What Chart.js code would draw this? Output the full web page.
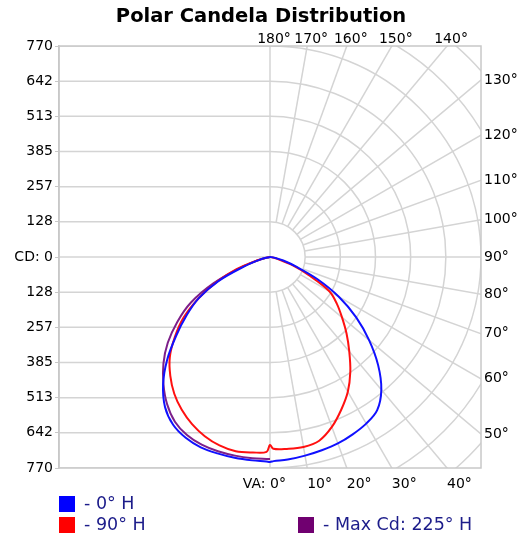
<!DOCTYPE html>
<html>
<head>
<meta charset="utf-8">
<script src="https://cdn.jsdelivr.net/npm/chart.js@4.4.1/dist/chart.umd.min.js"></script>
<style>
  body { margin: 0; background: #fff; }
  #wrap { width: 520px; height: 537px; position: relative; }
</style>
</head>
<body>
<div id="wrap"><canvas id="polar"></canvas></div>
<script>
// vertical angle from nadir (deg), and candela for each plane
const va = [0, 1, 5, 10, 15, 20, 25, 30, 35, 40, 45, 50, 55, 60, 65, 70, 75, 80, 85, 90];
const cd0   = [748, 745, 742, 736, 730, 724, 714, 702, 682, 632, 558, 472, 384, 290, 190, 100, 50, 20, 5, 0];
const cd180 = [748, 746, 745, 744, 742, 739, 728, 707, 668, 607, 531, 447, 372, 300, 208, 100, 40, 10, 0, 0];
const cd90  = [686, 700, 703, 704, 694, 660, 615, 568, 511, 450, 395, 343, 298, 250, 155, 85, 30, 8, 0, 0];
const cd270 = [686, 711, 716, 720, 712, 696, 673, 644, 609, 566, 517, 453, 385, 300, 213, 130, 50, 8, 0, 0];
const cd225 = [737, 737, 737, 736, 734, 729, 717, 694, 655, 605, 550, 487, 413, 334, 228, 115, 45, 10, 0, 0];

const cdTicks  = [-770, -641.67, -513.33, -385, -256.67, -128.33, 0, 128.33, 256.67, 385, 513.33, 641.67, 770];
const cdLabels = ['770', '642', '513', '385', '257', '128', 'CD: 0', '128', '257', '385', '513', '642', '770'];

const bottomAngles = [0, 10, 20, 30, 40];
const bottomLabels = ['VA: 0°', '10°', '20°', '30°', '40°'];
const rightAngles = [50, 60, 70, 80, 90, 100, 110, 120, 130];
const rightLabels = ['50°', '60°', '70°', '80°', '90°', '100°', '110°', '120°', '130°'];
const topAngles = [180, 170, 160, 150, 140];
const topLabels = ['180°', '170°', '160°', '150°', '140°'];

const FONT = "'DejaVu Sans', Verdana, sans-serif";
const rad = d => d * Math.PI / 180;

// left half (mirror plane) drawn from horizon down to nadir, then right half back up
function planePoints(left, right) {
    const pts = [];
    if (left) {
        for (let i = va.length - 1; i >= 0; i--) {
            pts.push({ x: -left[i] * Math.sin(rad(va[i])), y: -left[i] * Math.cos(rad(va[i])) });
        }
    }
    if (right) {
        for (let i = left ? 1 : 0; i < va.length; i++) {
            pts.push({ x: right[i] * Math.sin(rad(va[i])), y: -right[i] * Math.cos(rad(va[i])) });
        }
    }
    return pts;
}

const gridPlugin = {
    id: 'polarGrid',
    beforeDatasetsDraw(chart) {
        const { ctx, chartArea: a, scales: { x, y } } = chart;
        const cx = x.getPixelForValue(0), cy = y.getPixelForValue(0);
        const step = x.getPixelForValue(cdTicks[7]) - cx;
        ctx.save();
        ctx.beginPath();
        ctx.rect(a.left, a.top, a.right - a.left, a.bottom - a.top);
        ctx.clip();
        ctx.strokeStyle = '#d4d4d4';
        ctx.lineWidth = 1.5;
        // left half: horizontal lines
        cdTicks.forEach(v => {
            const py = y.getPixelForValue(v);
            ctx.beginPath(); ctx.moveTo(a.left, py); ctx.lineTo(cx, py); ctx.stroke();
        });
        // centre vertical
        ctx.beginPath(); ctx.moveTo(cx, a.top); ctx.lineTo(cx, a.bottom); ctx.stroke();
        // right half: rings
        for (let k = 1; k <= 9; k++) {
            ctx.beginPath();
            ctx.arc(cx, cy, step * k, -Math.PI / 2, Math.PI / 2);
            ctx.stroke();
        }
        // right half: rays every 10 deg
        for (let d = 10; d < 180; d += 10) {
            const sx = Math.sin(rad(d)), sy = Math.cos(rad(d));
            ctx.beginPath();
            ctx.moveTo(cx + step * sx, cy + step * sy);
            ctx.lineTo(cx + 1000 * sx, cy + 1000 * sy);
            ctx.stroke();
        }
        ctx.restore();
        ctx.save();
        ctx.strokeStyle = '#c8c8c8';
        ctx.lineWidth = 1.5;
        ctx.strokeRect(a.left, a.top, a.right - a.left, a.bottom - a.top);
        ctx.restore();
    },
    afterDraw(chart) {
        const { ctx, chartArea: a, scales: { x, y } } = chart;
        const cx = x.getPixelForValue(0), cy = y.getPixelForValue(0);
        const R = a.bottom - cy;
        ctx.save();
        // title
        ctx.fillStyle = '#000';
        ctx.textAlign = 'center';
        ctx.textBaseline = 'middle';
        ctx.font = 'bold 19.5px ' + FONT;
        ctx.fillText('Polar Candela Distribution', 261, 17);
        ctx.font = '14px ' + FONT;
        // bottom labels
        ctx.textAlign = 'left';
        bottomAngles.forEach((d, i) => {
            let px = cx + R * Math.tan(rad(d));
            if (i === 0) px -= ctx.measureText('VA: ').width;
            ctx.fillText(bottomLabels[i], px, a.bottom + 16);
        });
        // right labels
        rightAngles.forEach((d, i) => {
            const py = cy + (a.right - cx) / Math.tan(rad(d));
            ctx.fillText(rightLabels[i], a.right + 3, py);
        });
        // top labels
        ctx.textAlign = 'center';
        topAngles.forEach((d, i) => {
            const px = cx - (cy - a.top) * Math.tan(rad(d));
            ctx.fillText(topLabels[i], px + 4, a.top - 7);
        });
        // legend
        const spots = [[a.left, a.bottom + 36], [a.left, a.bottom + 57], [298, a.bottom + 57]];
        ctx.font = '17.5px ' + FONT;
        ctx.textAlign = 'left';
        chart.data.datasets.forEach((ds, i) => {
            const [lx, ly] = spots[i];
            ctx.fillStyle = ds.backgroundColor;
            ctx.fillRect(lx, ly - 8, 16, 16);
            ctx.fillStyle = '#1c1c8a';
            ctx.fillText('- ' + ds.label, lx + 25, ly);
        });
        ctx.restore();
    }
};

const ctx = document.getElementById('polar').getContext('2d');
const polar = new Chart(ctx, {
    type: 'scatter',
    data: {
        datasets: [{
            label: '0° H',
            data: planePoints(cd180, cd0),
            borderColor: '#1010ff',
            backgroundColor: '#0000ff'
        }, {
            label: '90° H',
            data: planePoints(cd270, cd90),
            borderColor: '#ff1010',
            backgroundColor: '#ff0000'
        }, {
            label: 'Max Cd: 225° H',
            data: planePoints(cd225, null),
            borderColor: '#7d1f8a',
            backgroundColor: '#700070'
        }]
    },
    options: {
        responsive: true,
        maintainAspectRatio: false,
        animation: false,
        showLine: true,
        elements: {
            point: { radius: 0 },
            line: { borderWidth: 2, tension: 0.35 }
        },
        layout: { padding: { left: 0, right: 39, top: 46, bottom: 69 } },
        scales: {
            x: { type: 'linear', min: -770, max: 770, display: false },
            y: {
                type: 'linear', min: -770, max: 770,
                afterBuildTicks: s => { s.ticks = cdTicks.map(v => ({ value: v })); },
                afterFit: s => { s.width = 59; },
                ticks: {
                    callback: (v, i) => cdLabels[i],
                    color: '#000',
                    font: { family: FONT, size: 14 },
                    padding: 2
                },
                grid: { drawOnChartArea: false, tickLength: 4, color: '#c8c8c8' },
                border: { color: '#c8c8c8', width: 1.5 }
            }
        },
        plugins: {
            legend: { display: false },
            tooltip: { enabled: false },
            title: { display: false }
        }
    },
    plugins: [gridPlugin]
});
</script>
</body>
</html>
